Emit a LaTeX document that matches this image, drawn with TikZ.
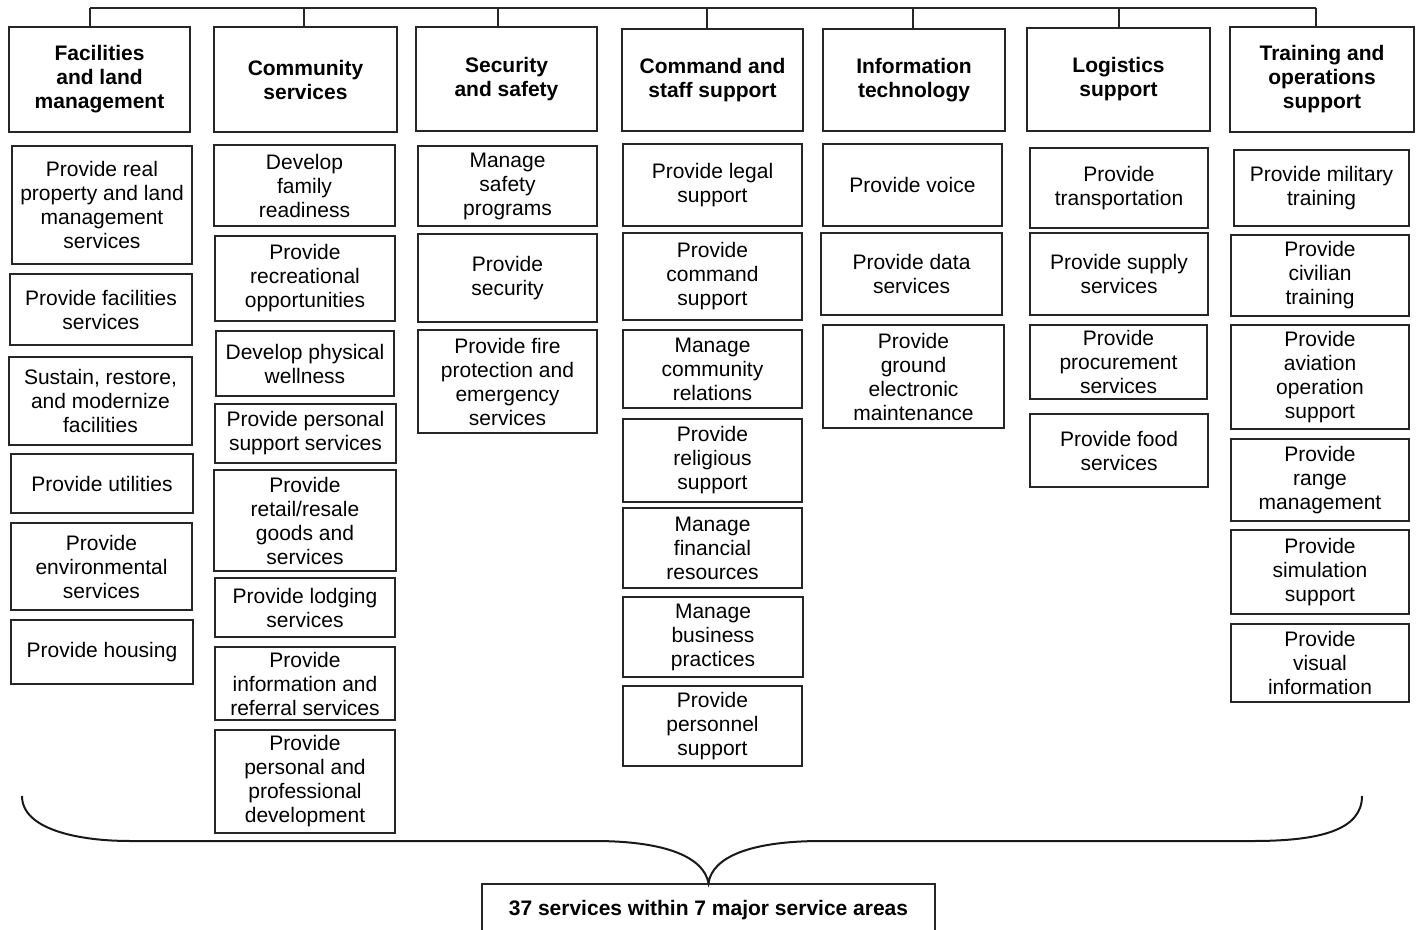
\documentclass[tikz,border=0pt]{standalone}
\usepackage{fontspec}
\setmainfont{Liberation Sans}
\newcommand\bx[7][box]{\node[#1, minimum width={(#5-#3)*0.5pt}, minimum height={(#6-#4)*0.5pt}] (#2) at ({(#3+#5)/2},{(#4+#6)/2}) {#7};}
\begin{document}
\begin{tikzpicture}[x=0.5pt,y=-0.5pt,
  box/.style={draw=black!85, line width=0.65pt, align=center, inner sep=0pt,
    font=\fontsize{10.5}{12}\selectfont},
  hbox/.style={box, line width=0.75pt, font=\fontsize{10.5}{12}\selectfont\bfseries},
  link/.style={draw=black!85, line width=0.7pt},
  brace/.style={draw=black!90, line width=1pt}]
\clip (0,0) rectangle (1418,930);
% headers
\bx[hbox]{h1}{9}{27}{190}{132}{Facilities\\and land\\management}
\bx[hbox]{h2}{214}{27}{397}{132}{Community\\services}
\bx[hbox]{h3}{416}{27}{597}{131}{Security\\and safety}
\bx[hbox]{h4}{622}{29}{803}{131}{Command and\\staff support}
\bx[hbox]{h5}{823}{29}{1005}{131}{Information\\technology}
\bx[hbox]{h6}{1027}{28}{1210}{131}{Logistics\\support}
\bx[hbox]{h7}{1230}{27}{1414}{132}{Training and\\operations\\support}
% top connector line
\coordinate (t1) at (90,8);
\coordinate (t2) at (304,8);
\coordinate (t3) at (498,8);
\coordinate (t4) at (707,8);
\coordinate (t5) at (913,8);
\coordinate (t6) at (1119,8);
\coordinate (t7) at (1316,8);
\draw[link] (t1) -- (t7);
\foreach \i in {1,...,7}{\draw[link] (t\i) -- (t\i |- h\i.north);}
% column 1
\bx{a1}{12}{146}{192}{264}{Provide real\\property and land\\management\\services}
\bx{a2}{10}{274}{192}{345}{Provide facilities\\services}
\bx{a3}{9}{357}{192}{445}{Sustain, restore,\\and modernize\\facilities}
\bx{a4}{11}{454}{193}{513}{Provide utilities}
\bx{a5}{11}{523}{192}{610}{Provide\\environmental\\services}
\bx{a6}{11}{620}{193}{684}{Provide housing}
% column 2
\bx{b1}{214}{145}{395}{226}{Develop\\family\\readiness}
\bx{b2}{215}{236}{395}{321}{Provide\\recreational\\opportunities}
\bx{b3}{216}{331}{394}{396}{Develop physical\\wellness}
\bx{b4}{215}{404}{396}{463}{Provide personal\\support services}
\bx{b5}{214}{470}{396}{571}{Provide\\retail/resale\\goods and\\services}
\bx{b6}{215}{578}{395}{637}{Provide lodging\\services}
\bx{b7}{215}{647}{395}{720}{Provide\\information and\\referral services}
\bx{b8}{215}{730}{395}{833}{Provide\\personal and\\professional\\development}
% column 3
\bx{c1}{418}{146}{597}{226}{Manage\\safety\\programs}
\bx{c2}{418}{234}{597}{322}{Provide\\security}
\bx{c3}{418}{330}{597}{433}{Provide fire\\protection and\\emergency\\services}
% column 4
\bx{d1}{623}{144}{802}{226}{Provide legal\\support}
\bx{d2}{623}{233}{802}{320}{Provide\\command\\support}
\bx{d3}{623}{330}{802}{408}{Manage\\community\\relations}
\bx{d4}{623}{419}{802}{502}{Provide\\religious\\support}
\bx{d5}{623}{508}{802}{588}{Manage\\financial\\resources}
\bx{d6}{623}{597}{803}{677}{Manage\\business\\practices}
\bx{d7}{623}{686}{802}{766}{Provide\\personnel\\support}
% column 5
\bx{e1}{823}{144}{1002}{226}{Provide voice}
\bx{e2}{821}{233}{1002}{315}{Provide data\\services}
\bx{e3}{823}{325}{1004}{428}{Provide\\ground\\electronic\\maintenance}
% column 6
\bx{f1}{1030}{148}{1208}{228}{Provide\\transportation}
\bx{f2}{1030}{233}{1208}{315}{Provide supply\\services}
\bx{f3}{1030}{325}{1207}{399}{Provide\\procurement\\services}
\bx{f4}{1030}{414}{1208}{487}{Provide food\\services}
% column 7
\bx{g1}{1234}{150}{1409}{226}{Provide military\\training}
\bx{g2}{1231}{235}{1409}{316}{Provide\\civilian\\training}
\bx{g3}{1231}{325}{1409}{429}{Provide\\aviation\\operation\\support}
\bx{g4}{1231}{439}{1409}{521}{Provide\\range\\management}
\bx{g5}{1231}{530}{1409}{614}{Provide\\simulation\\support}
\bx{g6}{1231}{624}{1409}{702}{Provide\\visual\\information}
% bottom box
\bx[hbox]{bot}{482}{884}{935}{936}{37 services within 7 major service areas}
% brace
\coordinate (bl) at (22,796);
\coordinate (br) at (1362,796);
\draw[brace] (bl) .. controls (22,830) and (80,841) .. (130,841) -- (594,841)
  .. controls (668,841) and (704,858) .. (bot.north)
  .. controls (712,858) and (748,841) .. (822,841) -- (1253,841)
  .. controls (1320,841) and (1362,830) .. (br);
\end{tikzpicture}
\end{document}
